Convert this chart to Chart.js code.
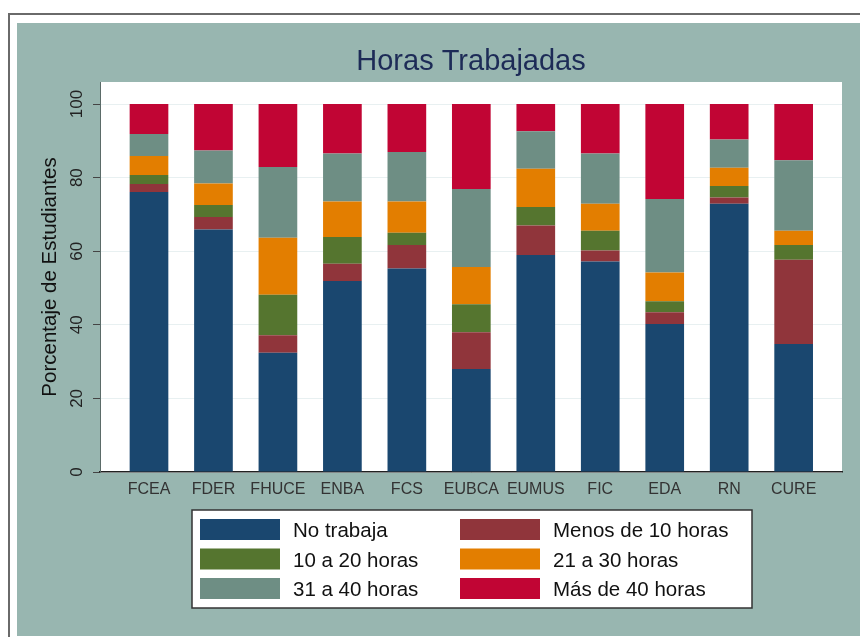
<!DOCTYPE html>
<html>
<head>
<meta charset="utf-8">
<script src="https://cdn.jsdelivr.net/npm/chart.js@4"></script>
<style>
  html, body { margin: 0; padding: 0; background: #fff; }
  #grafico { display: block; }
</style>
</head>
<body>
<canvas id="grafico" width="860" height="637"></canvas>
<script>
// datos (porcentaje de estudiantes por facultad)
const facultades = ["FCEA", "FDER", "FHUCE", "ENBA", "FCS", "EUBCA", "EUMUS", "FIC", "EDA", "RN", "CURE"];

const noTrabaja   = [76.1, 65.9, 32.4, 51.9, 55.3, 28.0, 59.0, 57.2, 40.2, 72.9, 34.8];
const menosDe10   = [2.2, 3.4, 4.8, 4.7, 6.4, 10.0, 8.0, 3.0, 3.2, 1.7, 22.9];
const de10a20     = [2.4, 3.3, 11.0, 7.3, 3.3, 7.6, 5.0, 5.4, 3.0, 3.1, 4.0];
const de21a30     = [5.2, 5.8, 15.5, 9.6, 8.5, 10.1, 10.4, 7.3, 7.8, 5.0, 3.9];
const de31a40     = [6.0, 9.0, 19.2, 13.1, 13.5, 21.2, 10.2, 13.7, 20.0, 7.7, 19.1];
const masDe40     = [8.1, 12.6, 17.1, 13.4, 13.0, 23.1, 7.4, 13.4, 25.8, 9.6, 15.3];

const yTicks = [0, 20, 40, 60, 80, 100];

const fuente = '"Liberation Sans", Arial, sans-serif';
Chart.defaults.font.family = fuente;

// armo cada serie con su color (paleta tipo stata)
function serie(label, valores, color) {
  return {
    label: label,
    data: valores.map((v, i) => ({ x: i, y: v })),
    backgroundColor: color,
    borderWidth: 0,
    barPercentage: 0.6,
    categoryPercentage: 1,
  };
}

const datasets = [
  serie("No trabaja", noTrabaja, "#1a476f"),
  serie("Menos de 10 horas", menosDe10, "#90353b"),
  serie("10 a 20 horas", de10a20, "#55752f"),
  serie("21 a 30 horas", de21a30, "#e37e00"),
  serie("31 a 40 horas", de31a40, "#6e8e84"),
  serie("Más de 40 horas", masDe40, "#c10534"),
];

// fondo: marco gris, panel verde agua y area blanca del grafico
const fondo = {
  id: "fondo",
  beforeDraw(chart) {
    const { ctx, chartArea: a } = chart;
    ctx.save();
    ctx.fillStyle = "#ffffff";
    ctx.fillRect(0, 0, chart.width, chart.height);
    ctx.strokeStyle = "#6a6a6a";
    ctx.lineWidth = 2;
    ctx.beginPath();
    ctx.moveTo(9, chart.height);
    ctx.lineTo(9, 14);
    ctx.lineTo(chart.width, 14);
    ctx.stroke();
    ctx.fillStyle = "#98b6b0";
    ctx.fillRect(17, 23, chart.width - 17, chart.height - 24);
    ctx.fillStyle = "#ffffff";
    ctx.fillRect(a.left, a.top, a.right - a.left, a.bottom - a.top);
    ctx.restore();
  },
  afterDraw(chart) {
    const { ctx, chartArea: a } = chart;
    ctx.save();
    // titulo
    ctx.fillStyle = "#1d2b57";
    ctx.font = "29px " + fuente;
    ctx.textAlign = "center";
    ctx.textBaseline = "alphabetic";
    ctx.fillText("Horas Trabajadas", (a.left + a.right) / 2, 70);

    // leyenda en dos columnas
    ctx.fillStyle = "#ffffff";
    ctx.fillRect(192, 510, 560, 98);
    ctx.strokeStyle = "#333333";
    ctx.lineWidth = 1.5;
    ctx.strokeRect(192, 510, 560, 98);
    ctx.font = "20.5px " + fuente;
    ctx.textAlign = "left";
    chart.data.datasets.forEach((ds, i) => {
      const col = i % 2;
      const fila = Math.floor(i / 2);
      const sx = col === 0 ? 200 : 460;
      const sy = 519 + fila * 29.5;
      ctx.fillStyle = ds.backgroundColor;
      ctx.fillRect(sx, sy, 80, 21);
      ctx.fillStyle = "#111111";
      ctx.fillText(ds.label, sx + 93, sy + 18.3);
    });
    ctx.restore();
  },
};

new Chart(document.getElementById("grafico"), {
  type: "bar",
  data: { datasets: datasets },
  options: {
    responsive: false,
    animation: false,
    devicePixelRatio: 1,
    layout: { padding: { left: 30, right: 18, top: 82, bottom: 125 } },
    plugins: {
      legend: { display: false },
      title: { display: false },
      tooltip: { enabled: false },
    },
    scales: {
      x: {
        type: "linear",
        stacked: true,
        offset: false,
        min: -0.76,
        max: 10.75,
        afterBuildTicks: (s) => { s.ticks = facultades.map((f, i) => ({ value: i })); },
        afterFit: (s) => { s.height = 40; },
        grid: { display: false, drawTicks: false },
        border: { display: true, color: "#222222", width: 1.5 },
        ticks: {
          autoSkip: false,
          minRotation: 0,
          maxRotation: 0,
          padding: 8,
          color: "#333333",
          font: { size: 16 },
          callback: (v) => facultades[v],
        },
      },
      y: {
        stacked: true,
        min: 0,
        max: 106,
        afterBuildTicks: (s) => { s.ticks = yTicks.map((v) => ({ value: v })); },
        afterFit: (s) => { s.width = 70; },
        grid: { color: "#e8f0f1", lineWidth: 1, tickLength: 7, tickColor: "#444444" },
        border: { display: true, color: "#5b6b68", width: 1 },
        ticks: {
          minRotation: 90,
          maxRotation: 90,
          crossAlign: "center",
          padding: 2,
          color: "#222222",
          font: { size: 17 },
        },
        title: {
          display: true,
          text: "Porcentaje de Estudiantes",
          color: "#111111",
          font: { size: 20.5 },
          padding: { top: 8, bottom: 0 },
        },
      },
    },
  },
  plugins: [fondo],
});
</script>
</body>
</html>
